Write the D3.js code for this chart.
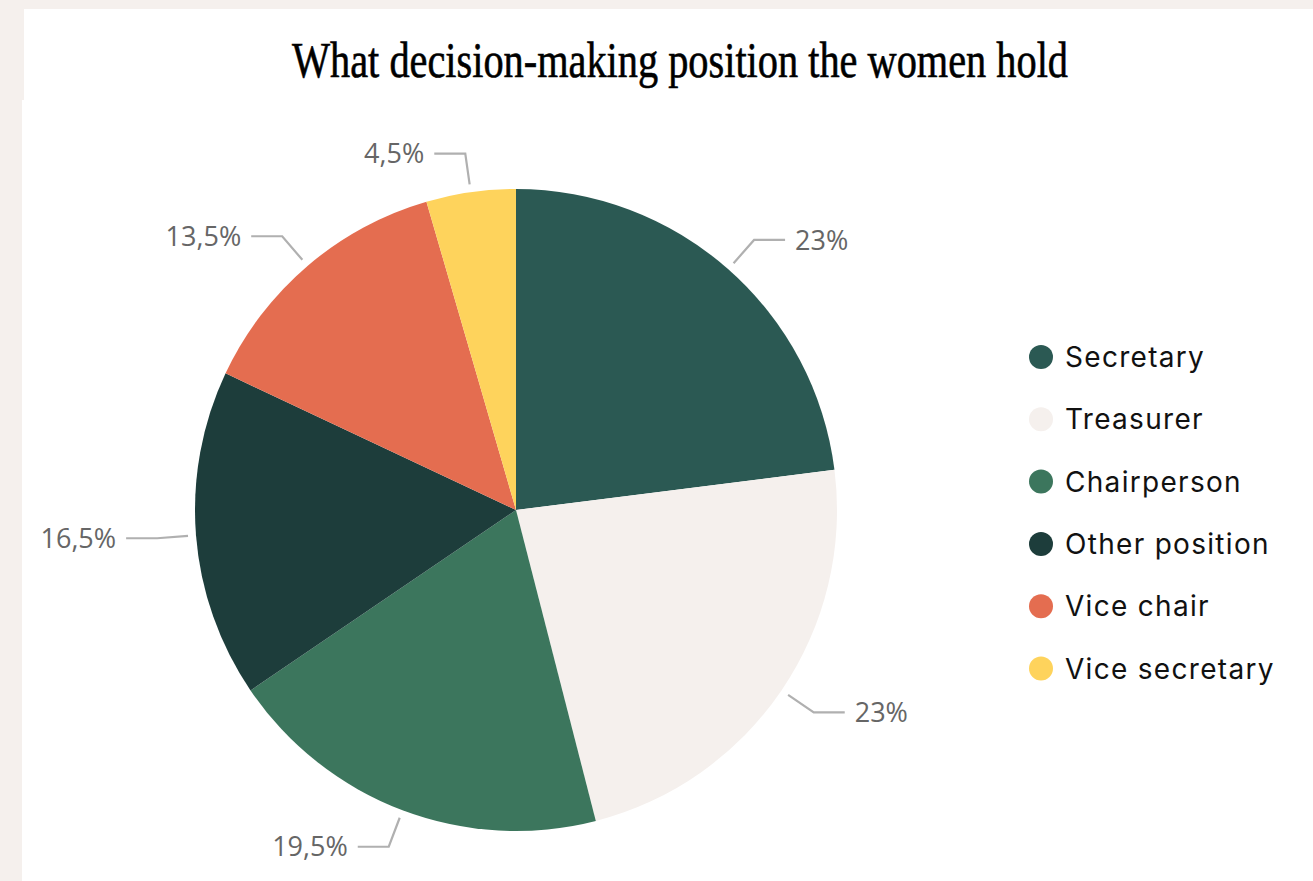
<!DOCTYPE html>
<html>
<head>
<meta charset="utf-8">
<script src="https://cdn.jsdelivr.net/npm/d3@7"></script>
<style>
  html, body { margin: 0; padding: 0; background: #f5f0ed; }
  svg { display: block; }
</style>
</head>
<body>
<svg id="chart" width="1313" height="881"></svg>
<script>
// ---- data ----
const title = "What decision-making position the women hold";
const categories = ["Secretary", "Treasurer", "Chairperson", "Other position", "Vice chair", "Vice secretary"];
const values = [23, 23, 19.5, 16.5, 13.5, 4.5];
const colors = ["#2b5953", "#f5f0ed", "#3c765d", "#1d3d3b", "#e46d50", "#fed35c"];

// ---- layout ----
const W = 1313, H = 881;
const cx = 516, cy = 510, R = 321;
const svg = d3.select("#chart");

svg.append("rect").attr("x", 0).attr("y", 0).attr("width", W).attr("height", H).attr("fill", "#f5f0ed");
svg.append("rect").attr("x", 24).attr("y", 9).attr("width", W - 24).attr("height", 100).attr("fill", "#ffffff");
svg.append("rect").attr("x", 22).attr("y", 100).attr("width", W - 22).attr("height", H - 100).attr("fill", "#ffffff");

svg.append("text")
  .attr("x", 680).attr("y", 77)
  .attr("text-anchor", "middle")
  .attr("font-family", "'Liberation Serif', 'DejaVu Serif', serif")
  .attr("font-size", 50)
  .attr("fill", "#000")
  .attr("stroke", "#000")
  .attr("stroke-width", 0.6)
  .attr("textLength", 776)
  .attr("lengthAdjust", "spacingAndGlyphs")
  .text(title);

const data = categories.map((c, i) => ({ name: c, value: values[i], color: colors[i] }));
const pie = d3.pie().sort(null).value(d => d.value);
const arcs = pie(data);
const arc = d3.arc().innerRadius(0).outerRadius(R);

const g = svg.append("g").attr("transform", `translate(${cx},${cy})`);
g.selectAll("path.slice").data(arcs).join("path")
  .attr("class", "slice")
  .attr("d", arc)
  .attr("fill", d => d.data.color);

const fmt = v => String(v).replace(".", ",") + "%";
const polar = (r, a) => [r * Math.sin(a), -r * Math.cos(a)];

arcs.forEach(d => {
  const a = (d.startAngle + d.endAngle) / 2;
  const right = Math.sin(a) > 0;
  const p1 = polar(R + 8, a);
  const p2 = polar(R + 39, a);
  const p3 = [p2[0] + (right ? 31 : -31), p2[1]];
  g.append("polyline")
    .attr("points", [p1, p2, p3].map(p => p.join(",")).join(" "))
    .attr("fill", "none")
    .attr("stroke", "#b0b0b0")
    .attr("stroke-width", 2.2);
  g.append("text")
    .attr("x", p3[0] + (right ? 10 : -10))
    .attr("y", p3[1])
    .attr("dy", "0.36em")
    .attr("text-anchor", right ? "start" : "end")
    .attr("font-family", "'Open Sans', 'DejaVu Sans', sans-serif")
    .attr("font-size", 27)
    .attr("fill", "#666666")
    .text(fmt(d.data.value));
});

// ---- legend ----
const legend = svg.append("g").attr("transform", "translate(1041,357)");
const items = legend.selectAll("g").data(data).join("g")
  .attr("transform", (d, i) => `translate(0,${i * 62.3})`);
items.append("circle").attr("r", 12).attr("fill", d => d.color);
items.append("text")
  .attr("x", 24).attr("dy", "0.36em")
  .attr("font-family", "Inter, 'Noto Sans', sans-serif")
  .attr("font-size", 28)
  .attr("letter-spacing", 1.3)
  .attr("fill", "#111111")
  .text(d => d.name);
</script>
</body>
</html>
